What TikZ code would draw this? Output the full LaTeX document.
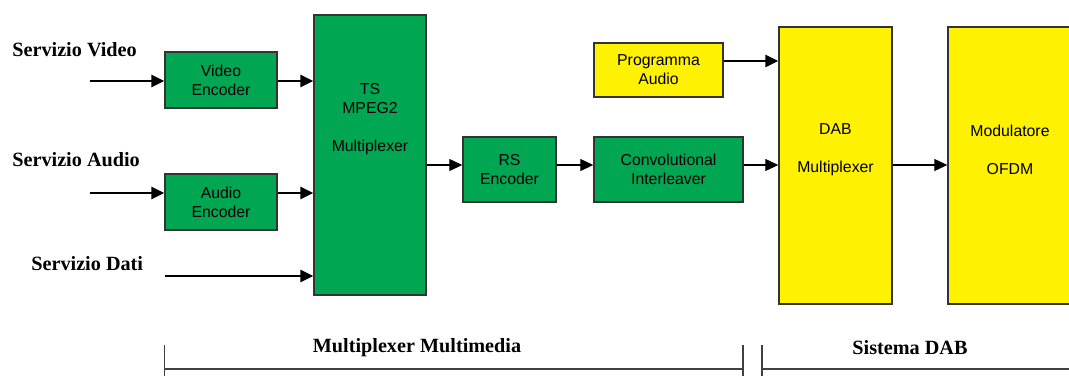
\documentclass[tikz,border=0pt]{standalone}
\usepackage{fontspec}
\setmainfont{Liberation Serif}
\setsansfont{Liberation Sans}
\usepackage{tikz}
\usetikzlibrary{positioning,calc,arrows.meta}
\definecolor{boxgreen}{rgb}{0.0, 0.65, 0.32}
\definecolor{boxyellow}{rgb}{1.0, 0.95, 0.0}

\begin{document}
\begin{tikzpicture}[
	greenbox/.style={draw=black!80,line width=0.8pt,fill=boxgreen,inner sep=0pt,font=\sffamily\fontsize{9}{10.8}\selectfont,align=center},
	yellowbox/.style={greenbox,fill=boxyellow},
	boxtext/.style={font=\sffamily\fontsize{9}{10.8}\selectfont,align=center,inner sep=0pt},
	service/.style={font=\bfseries\fontsize{11.5}{13}\selectfont,anchor=west,inner sep=0pt},
	heavy/.style={line width=1.6pt,-{Triangle[length=0.26cm,width=0.24cm]}},
	light/.style={line width=0.6pt,-{Triangle[length=0.26cm,width=0.24cm]}},
	bracket/.style={draw=black!75,line width=0.9pt}
	]
		\useasboundingbox (0,0) rectangle (21.38,7.52);
		\clip (0,0) rectangle (21.38,7.52);
		
		\node[service] (svideo) at (0.24,6.52) {Servizio Video};
		\node[service] (saudio) at (0.24,4.32) {Servizio Audio};
		\node[service] (sdati) at (0.62,2.24) {Servizio Dati};
		
		\node[greenbox,minimum width=2.24cm,minimum height=1.12cm] (videnc) at (4.42,5.92) {Video\\Encoder};
		\node[greenbox,minimum width=2.24cm,minimum height=1.12cm] (audenc) at (4.42,3.48) {Audio\\Encoder};
		
		\node[greenbox,minimum width=2.24cm,minimum height=5.6cm] (tsmux) at (7.40,4.42) {};
		\node[boxtext] (tstext) at (7.40,5.13) {TS\\MPEG2\\[10.8pt]Multiplexer};
		
		\node[greenbox,minimum width=1.86cm,minimum height=1.30cm] (rsenc) at (10.19,4.13) {RS\\Encoder};
		\node[greenbox,minimum width=2.98cm,minimum height=1.30cm] (convint) at (13.37,4.13) {Convolutional\\Interleaver};
		\node[yellowbox,minimum width=2.58cm,minimum height=1.08cm] (progaudio) at (13.17,6.12) {Programma\\Audio};
		
		\node[yellowbox,minimum width=2.26cm,minimum height=5.54cm] (dabmux) at (16.71,4.21) {};
		\node[boxtext] (dabtext) at (16.71,4.53) {DAB\\[10.8pt]Multiplexer};
		\node[yellowbox,minimum width=2.48cm,minimum height=5.54cm] (ofdm) at (20.20,4.21) {};
		\node[boxtext] (ofdmtext) at (20.20,4.53) {Modulatore\\[10.8pt]OFDM};
		
		\coordinate (invideo) at (1.80,5.90);
		\coordinate (inaudio) at (1.80,3.66);
		\coordinate (indati) at (3.30,2.00);
		\coordinate (mainline) at (0,4.22);
		\coordinate (progline) at (0,6.30);
		
		% ingressi
		\draw[heavy] (invideo) -- (invideo -| videnc.west);
		\draw[heavy] (inaudio) -- (inaudio -| audenc.west);
		\draw[heavy] (videnc.east |- invideo) -- (invideo -| tsmux.west);
		\draw[heavy] (audenc.east |- inaudio) -- (inaudio -| tsmux.west);
		\draw[heavy] (indati) -- (indati -| tsmux.west);
		
		% catena principale
		\draw[light] (tsmux.east |- mainline) -- (mainline -| rsenc.west);
		\draw[light] (rsenc.east |- mainline) -- (mainline -| convint.west);
		\draw[light] (convint.east |- mainline) -- (mainline -| dabmux.west);
		\draw[light] (dabmux.east |- mainline) -- (mainline -| ofdm.west);
		\draw[heavy] (progaudio.east |- progline) -- (progline -| dabmux.west);
		
		% parentesi in basso
		\coordinate (mmleft) at (3.29,0.62);
		\coordinate (mmright) at (14.86,0.62);
		\coordinate (dableft) at (15.24,0.62);
		\draw[bracket] (mmleft) -- (mmleft |- 0,0) (mmleft |- 0,0.14) -- (mmright |- 0,0.14) (mmright) -- (mmright |- 0,0);
		\draw[bracket] (dableft) -- (dableft |- 0,0) (dableft |- 0,0.14) -- (21.5,0.14);
		
		\node[service,anchor=center] (mmlabel) at (8.34,0.56) {Multiplexer Multimedia};
		\node[service,anchor=center] (dablabel) at (18.20,0.56) {Sistema DAB};
		
\end{tikzpicture}
\end{document}
